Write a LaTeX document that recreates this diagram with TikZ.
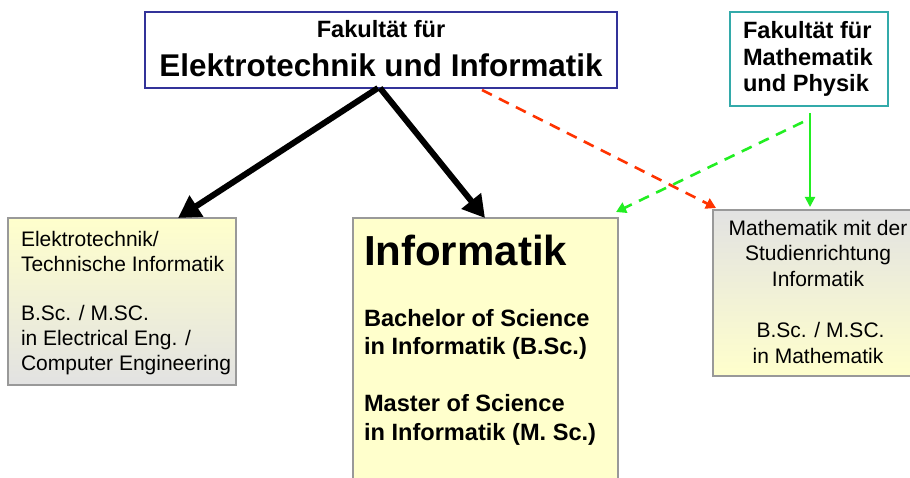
\documentclass[tikz,border=0pt]{standalone}
\usepackage{fontspec}
\setmainfont{Liberation Sans}
\usetikzlibrary{arrows.meta}
\definecolor{boxyellow}{HTML}{FFFFCC}
\definecolor{boxgray}{HTML}{E2E2E2}
\definecolor{edgegray}{HTML}{999999}
\definecolor{feiblue}{HTML}{333399}
\definecolor{mpteal}{HTML}{33AAAA}
\definecolor{linkred}{HTML}{FF3300}
\definecolor{linkgreen}{HTML}{22EE22}
\begin{document}
\begin{tikzpicture}[x=1pt,y=-1pt,
  frame/.style={draw, rectangle, inner sep=0, outer sep=0, anchor=north west},
  progbox/.style={frame, draw=edgegray, line width=1.6pt},
  facbox/.style={frame, fill=white, line width=1.4pt},
  label/.style={inner sep=0, outer sep=0},
  regular/.style={font=\fontsize{21}{24.6}\selectfont},
  heavy/.style={font=\bfseries\fontsize{23.6}{26.7}\selectfont},
  bigarrow/.style={line width=6pt, -{Triangle[length=22pt,width=24pt]}},
  dashlink/.style={line width=2.6pt, dash pattern=on 11pt off 8pt, -{Triangle[length=10pt,width=11pt]}},
  solidlink/.style={line width=2pt, -{Triangle[length=10pt,width=10pt]}}]
\useasboundingbox (0,0) rectangle (910,478);
\clip (0,0) rectangle (910,478);

% faculties
\node[facbox, draw=feiblue, minimum width=472pt, minimum height=76pt] (fei) at (145,12) {};
\node[facbox, draw=mpteal, minimum width=158pt, minimum height=94pt] (mp) at (730,12) {};

\node[label, anchor=base, font=\bfseries\fontsize{23.6}{26}\selectfont] (feitop) at (381,38) {Fakultät für};
\node[label, anchor=base, font=\bfseries\fontsize{31.4}{34}\selectfont] (feiname) at (381,77) {Elektrotechnik und Informatik};
% multi-line labels are placed by the baseline of their last line
\node[label, heavy, anchor=base west, align=left] (mptext) at (743,92)
  {Fakultät für\\Mathematik\\und Physik};

% study programmes
\node[progbox, top color=boxyellow, bottom color=boxgray, minimum width=228pt, minimum height=167pt] (et) at (8,218) {};
\node[progbox, fill=boxyellow, minimum width=265pt, minimum height=300pt] (inf) at (353,218) {};
\node[progbox, top color=boxgray, bottom color=boxyellow, minimum width=210pt, minimum height=166pt] (mi) at (713,210) {};

\node[label, regular, anchor=base west, align=left] (ettext) at (21,370)
  {Elektrotechnik/\\Technische Informatik\\[24.6pt]B.Sc. / M.SC.\\in Electrical Eng. /\\Computer Engineering};

\node[label, anchor=base west, font=\bfseries\fontsize{42}{46}\selectfont] (inftitle) at (364,266) {Informatik};
\node[label, anchor=base west, align=left, font=\bfseries\fontsize{23.6}{28.5}\selectfont] (inftext) at (364,440)
  {Bachelor of Science\\in Informatik (B.Sc.)\\[28.5pt]Master of Science\\in Informatik (M. Sc.)};

\node[label, anchor=base, align=center, font=\fontsize{21}{25.6}\selectfont] (mitext) at (818,363)
  {Mathematik mit der\\Studienrichtung\\Informatik\\[25.6pt]\hspace*{5pt}B.Sc. / M.SC.\\in Mathematik};

% connectors
\draw[bigarrow] ([xshift=233pt]fei.south west) -- ([xshift=170pt]et.north west);
\draw[bigarrow] ([xshift=235pt]fei.south west) -- ([xshift=132pt]inf.north west);
\draw[dashlink, linkred] ([xshift=337pt,yshift=-2pt]fei.south west) -- ([xshift=3pt,yshift=2pt]mi.north west);
\draw[dashlink, linkgreen] ([xshift=73pt,yshift=-16pt]mp.south west) -- ([xshift=-2pt,yshift=6pt]inf.north east);
\draw[solidlink, linkgreen] ([xshift=80pt,yshift=-7pt]mp.south west) -- ([xshift=97pt,yshift=3pt]mi.north west);
\end{tikzpicture}
\end{document}
